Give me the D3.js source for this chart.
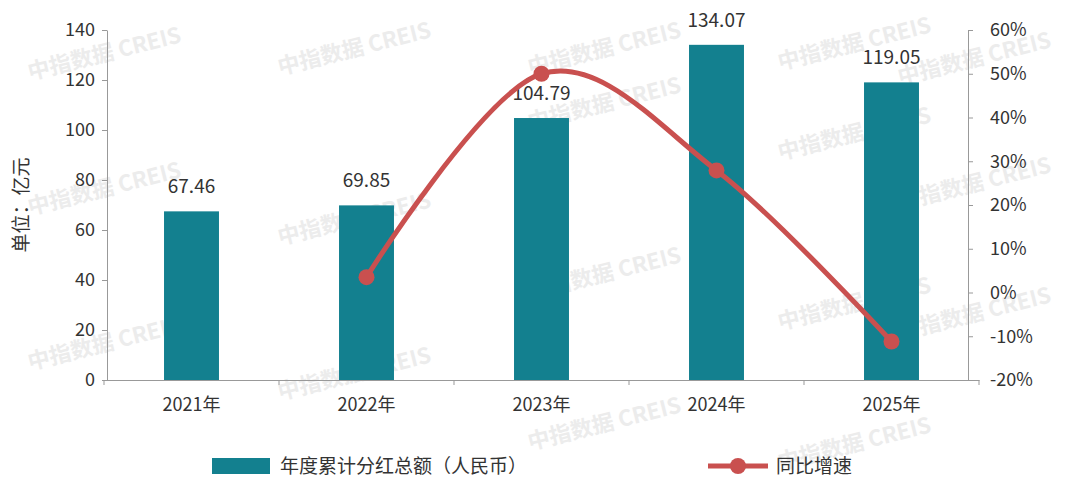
<!DOCTYPE html><html><head><meta charset="utf-8"><script src="https://cdn.jsdelivr.net/npm/d3@7"></script>
<style>body{margin:0;background:#fff}text{font-family:"Noto Sans CJK SC","Noto Sans",sans-serif}</style></head><body>
<svg id="c" width="1080" height="495"></svg>
<script>
const categories=["2021年","2022年","2023年","2024年","2025年"];
const amounts=[67.46,69.85,104.79,134.07,119.05];
const growth=[null,3.5,50.0,27.9,-11.2];
const leftTicks=[0,20,40,60,80,100,120,140];
const rightTicks=[-20,-10,0,10,20,30,40,50,60];
const svg=d3.select("#c");
const x=d3.scaleBand().domain(categories).range([104,979]).paddingInner(0.686).paddingOuter(0.343);
const y=d3.scaleLinear().domain([0,140]).range([380,30]);
const y2=d3.scaleLinear().domain([-20,60]).range([380,30]);
const wm=[[30,80],[280,75],[530,75],[780,70],[900,85],[30,215],[280,245],[530,130],[780,160],[900,210],[30,370],[280,400],[530,300],[780,330],[900,340],[530,450],[780,470]];
wm.forEach(([a,b])=>svg.append("text").attr("transform",`translate(${a},${b}) rotate(-14)`).attr("font-size",22).attr("font-weight","bold").attr("fill","#ececec").text("中指数据 CREIS"));
svg.selectAll("rect.b").data(amounts).join("rect").attr("x",(d,i)=>x(categories[i])).attr("width",x.bandwidth()).attr("y",d=>y(d)).attr("height",d=>380-y(d)).attr("fill","#13808f");
svg.selectAll("text.v").data(amounts).join("text").attr("x",(d,i)=>x(categories[i])+x.bandwidth()/2).attr("y",d=>y(d)-18).attr("text-anchor","middle").attr("font-size",19).attr("fill","#333").text(d=>d.toFixed(2));
const la=svg.append("g").attr("transform","translate(107,0)").call(d3.axisLeft(y).tickValues(leftTicks).tickSize(5).tickSizeOuter(0));
const ra=svg.append("g").attr("transform","translate(968,0)").call(d3.axisRight(y2).tickValues(rightTicks).tickSize(5).tickSizeOuter(0).tickFormat(d=>d+"%"));
const ba=svg.append("g").attr("transform","translate(0,380)").call(d3.axisBottom(x).tickSize(0).tickPadding(18));
svg.append("g").attr("transform","translate(0,380)").selectAll("line").data(d3.range(6)).join("line").attr("x1",d=>104+d*175).attr("x2",d=>104+d*175).attr("y1",0).attr("y2",5).attr("stroke","#999");
[la,ra,ba].forEach(g=>{g.selectAll("path,line").attr("stroke","#999");g.selectAll("text").attr("font-size",18).attr("fill","#333").attr("font-family","Noto Sans CJK SC");});
la.selectAll("text").attr("dx",-4);ra.selectAll("text").attr("dx",14);
svg.append("text").attr("transform","translate(28,205) rotate(-90)").attr("text-anchor","middle").attr("font-size",19).attr("fill","#333").text("单位：亿元");
const pts=growth.map((g,i)=>[x(categories[i])+x.bandwidth()/2,g]).filter(p=>p[1]!==null);
svg.append("path").attr("d",d3.line().x(d=>d[0]).y(d=>y2(d[1])).curve(d3.curveCardinal.tension(0))(pts)).attr("fill","none").attr("stroke","#c9504f").attr("stroke-width",5);
svg.selectAll("circle.p").data(pts).join("circle").attr("cx",d=>d[0]).attr("cy",d=>y2(d[1])).attr("r",8).attr("fill","#c9504f");
svg.append("rect").attr("x",212).attr("y",458).attr("width",58).attr("height",16).attr("fill","#13808f");
svg.append("text").attr("x",280).attr("y",473).attr("font-size",19).attr("fill","#333").text("年度累计分红总额（人民币）");
svg.append("line").attr("x1",708).attr("x2",768).attr("y1",466).attr("y2",466).attr("stroke","#c9504f").attr("stroke-width",5);
svg.append("circle").attr("cx",738).attr("cy",466).attr("r",8).attr("fill","#c9504f");
svg.append("text").attr("x",776).attr("y",473).attr("font-size",19).attr("fill","#333").text("同比增速");
</script></body></html>
